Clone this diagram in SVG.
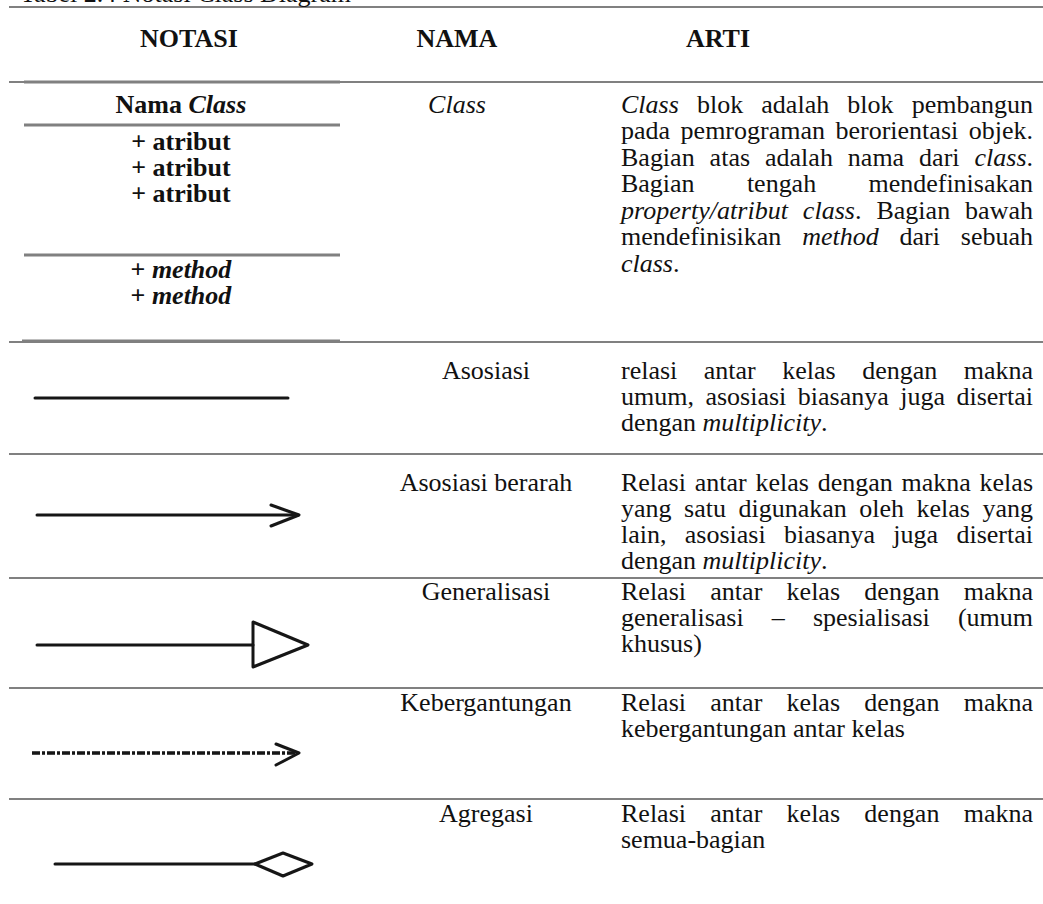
<svg xmlns="http://www.w3.org/2000/svg" width="1043" height="904" viewBox="0 0 1043 904">
  <style>
    .rule{stroke:#808080;stroke-width:2.2;fill:none}
    .box{stroke:#808080;stroke-width:3;fill:none}
    text{font-family:"Liberation Serif","Times New Roman",serif;font-size:25px;fill:#111}
    .h{font-weight:bold;text-anchor:middle}
    .c{text-anchor:middle}
    .b{font-weight:bold}
    .i{font-style:italic}
    .sym{stroke:#161616;stroke-width:3;fill:none;stroke-linecap:round;stroke-linejoin:round}
  </style>
  <defs>
    <filter id="soft" filterUnits="userSpaceOnUse" x="0" y="0" width="1043" height="904">
      <feGaussianBlur stdDeviation="0.55"/>
    </filter>
  </defs>
  <rect width="1043" height="904" fill="#fff"/>

  <!-- table rules -->
  <g id="rules">
    <line class="rule" x1="9" y1="7" x2="1043" y2="7"/>
    <line class="rule" x1="9" y1="82" x2="1043" y2="82"/>
    <line class="rule" x1="9" y1="342" x2="1043" y2="342"/>
    <line class="rule" x1="9" y1="454" x2="1043" y2="454"/>
    <line class="rule" x1="9" y1="578" x2="1043" y2="578"/>
    <line class="rule" x1="9" y1="688" x2="1043" y2="688"/>
    <line class="rule" x1="9" y1="799" x2="1043" y2="799"/>
  </g>

  <!-- text is set in a slightly widened frame (x values divided by 1.04) -->
  <g transform="scale(1.04 1)">
    <text id="caption" x="19.2" y="2">Tabel 2.4 Notasi Class Diagram</text>
    <g id="header">
      <text class="h" x="181.7" y="47">NOTASI</text>
      <text class="h" x="439.4" y="47">NAMA</text>
      <text class="h" x="690.4" y="47">ARTI</text>
    </g>
  </g>

  <!-- Class -->
  <g id="row-class">
    <g class="box">
      <line x1="24" y1="82" x2="340" y2="82"/>
      <line x1="24" y1="125" x2="340" y2="125"/>
      <line x1="24" y1="255" x2="340" y2="255"/>
      <line x1="22" y1="341" x2="340" y2="341"/>
    </g>
    <g transform="scale(1.04 1)">
      <text class="c b" x="174" y="113">Nama <tspan class="i">Class</tspan></text>
      <text class="c b" x="174" y="150">+ atribut</text>
      <text class="c b" x="174" y="176">+ atribut</text>
      <text class="c b" x="174" y="202">+ atribut</text>
      <text class="c b" x="174" y="278">+ <tspan class="i">method</tspan></text>
      <text class="c b" x="174" y="304">+ <tspan class="i">method</tspan></text>
      <text class="c i" x="439.4" y="113">Class</text>
      <text x="597.1" y="113" word-spacing="11.2" textLength="396.2" lengthAdjust="spacing"><tspan class="i">Class</tspan> blok adalah blok pembangun</text>
      <text x="597.1" y="139.5" word-spacing="3.9" textLength="396.2" lengthAdjust="spacing">pada pemrograman berorientasi objek.</text>
      <text x="597.1" y="166" word-spacing="8.1" textLength="396.2" lengthAdjust="spacing">Bagian atas adalah nama dari <tspan class="i">class</tspan>.</text>
      <text x="597.1" y="192.5" word-spacing="44" textLength="396.2" lengthAdjust="spacing">Bagian tengah mendefinisakan</text>
      <text x="597.1" y="219" word-spacing="8" textLength="396.2" lengthAdjust="spacing"><tspan class="i">property/atribut class</tspan>. Bagian bawah</text>
      <text x="597.1" y="245.5" word-spacing="13.8" textLength="396.2" lengthAdjust="spacing">mendefinisikan <tspan class="i">method</tspan> dari sebuah</text>
      <text x="597.1" y="272"><tspan class="i">class</tspan>.</text>
    </g>
  </g>

  <!-- Asosiasi -->
  <g id="row-asosiasi">
    <line class="sym" x1="35" y1="398" x2="288" y2="398" filter="url(#soft)"/>
    <g transform="scale(1.04 1)">
      <text class="c" x="467.3" y="379">Asosiasi</text>
      <text x="597.1" y="379" word-spacing="19.2" textLength="396.2" lengthAdjust="spacing">relasi antar kelas dengan makna</text>
      <text x="597.1" y="405" word-spacing="4.8" textLength="396.2" lengthAdjust="spacing">umum, asosiasi biasanya juga disertai</text>
      <text x="597.1" y="431">dengan <tspan class="i">multiplicity</tspan>.</text>
    </g>
  </g>

  <!-- Asosiasi berarah -->
  <g id="row-asosiasi-berarah">
    <g class="sym" filter="url(#soft)">
      <line x1="37" y1="515" x2="298" y2="515"/>
      <polyline points="271,505 299,515 271,526"/>
    </g>
    <g transform="scale(1.04 1)">
      <text class="c" x="467.3" y="491">Asosiasi berarah</text>
      <text x="597.1" y="491" word-spacing="2.2" textLength="396.2" lengthAdjust="spacing">Relasi antar kelas dengan makna kelas</text>
      <text x="597.1" y="517" word-spacing="5.8" textLength="396.2" lengthAdjust="spacing">yang satu digunakan oleh kelas yang</text>
      <text x="597.1" y="543" word-spacing="11.4" textLength="396.2" lengthAdjust="spacing">lain, asosiasi biasanya juga disertai</text>
      <text x="597.1" y="569">dengan <tspan class="i">multiplicity</tspan>.</text>
    </g>
  </g>

  <!-- Generalisasi -->
  <g id="row-generalisasi">
    <g class="sym" filter="url(#soft)" stroke-width="2.6">
      <line x1="37" y1="645" x2="253" y2="645"/>
      <polygon points="253,622 308,645 253,667"/>
    </g>
    <g transform="scale(1.04 1)">
      <text class="c" x="467.3" y="600">Generalisasi</text>
      <text x="597.1" y="600" word-spacing="17.1" textLength="396.2" lengthAdjust="spacing">Relasi antar kelas dengan makna</text>
      <text x="597.1" y="626" word-spacing="20.8" textLength="396.2" lengthAdjust="spacing">generalisasi – spesialisasi (umum</text>
      <text x="597.1" y="652">khusus)</text>
    </g>
  </g>

  <!-- Kebergantungan -->
  <g id="row-kebergantungan">
    <g class="sym" filter="url(#soft)">
      <line x1="32" y1="753" x2="296" y2="753" stroke-width="3.6" stroke-dasharray="8 2 3 2" stroke-linecap="butt"/>
      <polyline points="276,744 299,753 276,765"/>
    </g>
    <g transform="scale(1.04 1)">
      <text class="c" x="467.3" y="711">Kebergantungan</text>
      <text x="597.1" y="711" word-spacing="17.1" textLength="396.2" lengthAdjust="spacing">Relasi antar kelas dengan makna</text>
      <text x="597.1" y="737">kebergantungan antar kelas</text>
    </g>
  </g>

  <!-- Agregasi -->
  <g id="row-agregasi">
    <g class="sym" filter="url(#soft)" stroke-width="2.6">
      <line x1="55" y1="864" x2="255" y2="864"/>
      <polygon points="255,864 283,853 312,864 283,876"/>
    </g>
    <g transform="scale(1.04 1)">
      <text class="c" x="467.3" y="822">Agregasi</text>
      <text x="597.1" y="822" word-spacing="17.1" textLength="396.2" lengthAdjust="spacing">Relasi antar kelas dengan makna</text>
      <text x="597.1" y="848">semua-bagian</text>
    </g>
  </g>
</svg>
